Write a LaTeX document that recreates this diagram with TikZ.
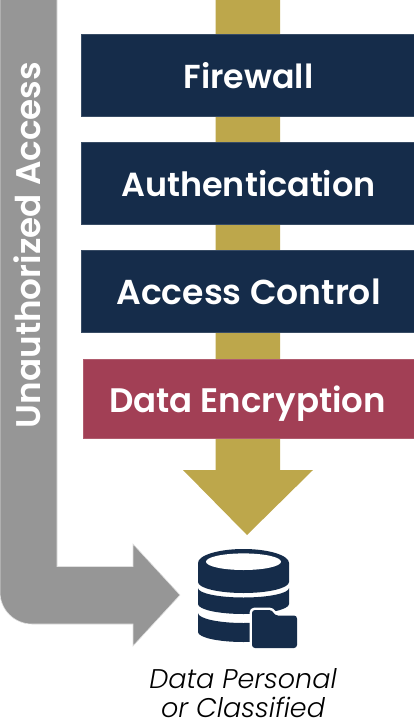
\documentclass[tikz,border=0pt]{standalone}
\usepackage{fontspec}
\setmainfont{Poppins}[UprightFont=* Medium,BoldFont=* SemiBold,ItalicFont=* Light Italic]
\definecolor{navy}{HTML}{152C4A}
\definecolor{wine}{HTML}{A23F55}
\definecolor{gold}{HTML}{BDA74B}
\definecolor{graya}{HTML}{969696}
\tikzset{
  layer/.style={draw=#1!85!white,line width=.6pt,fill=#1,text=white,minimum height=82pt,minimum width=333pt,anchor=north west,inner sep=0pt,outer sep=0pt},
  layer/.default=navy,
  layertext/.style={font=\bfseries\fontsize{#1}{36pt}\selectfont,text=white,inner sep=0pt,anchor=base},
  caption/.style={font=\itshape\fontsize{27pt}{29.5pt}\selectfont,align=center,text=black,inner sep=0pt}
}
\begin{document}
\begin{tikzpicture}[x=1pt,y=-1pt]
\useasboundingbox (0,0) rectangle (413,726);
% gold shaft and head
\fill[gold] (215.5,0) -- (280,0) -- (280,470) -- (313,470) -- (247,535) -- (183,470) -- (215.5,470) -- cycle;
% grey bent arrow
\fill[graya,draw=black!12,line width=.6pt] (0,-2) -- (57,-2) -- (57,566.5) -- (133,566.5) -- (133,544) -- (180,595) -- (133,646) -- (133,624) -- (32,624) arc[start angle=90,end angle=180,radius=32] -- (0,-2) -- cycle;
\node[rotate=90,anchor=base,text=white,font=\bfseries\fontsize{34.2pt}{36pt}\selectfont,inner sep=0pt] (unauth) at (40,245) {Unauthorized Access};
% layers
\node[layer] (fw) at (81,34) {};
\node[layer] (au) at (81,142) {};
\node[layer] (ac) at (81,250) {};
\node[layer=wine,minimum height=79pt,minimum width=331pt] (de) at (83,359) {};
\node[layertext=33.2pt] at (248.5,88) {Firewall};
\node[layertext=33.4pt] at (248.5,196.5) {Authentication};
\node[layertext=34.6pt] at (248.5,304) {Access Control};
\node[layertext=34pt] at (247.5,412.5) {Data Encryption};
% database icon
\fill[navy] (198,563) arc[start angle=180,end angle=360,x radius=45.5,y radius=14] -- (289,582) arc[start angle=0,end angle=180,x radius=45.5,y radius=11] -- cycle;
\fill[white] (243.5,561.7) ellipse[x radius=37.5,y radius=8.3];
\fill[navy] (198,588) arc[start angle=180,end angle=0,x radius=45.5,y radius=9.5] -- (289,604) arc[start angle=0,end angle=180,x radius=45.5,y radius=10] -- cycle;
\fill[navy] (198,613) arc[start angle=180,end angle=0,x radius=45.5,y radius=10] -- (289,632) arc[start angle=0,end angle=180,x radius=45.5,y radius=10] -- cycle;
% folder
\fill[navy,draw=white,line width=5pt,rounded corners=3pt] (252,648) -- (252,610) -- (272,610) -- (275,615.5) -- (297,615.5) -- (297,648) -- cycle;
\fill[navy,rounded corners=3pt] (252,648) -- (252,610) -- (272,610) -- (275,615.5) -- (297,615.5) -- (297,648) -- cycle;
\node[caption] (cap) at (243,693) {Data Personal\\or Classified};
\end{tikzpicture}
\end{document}
